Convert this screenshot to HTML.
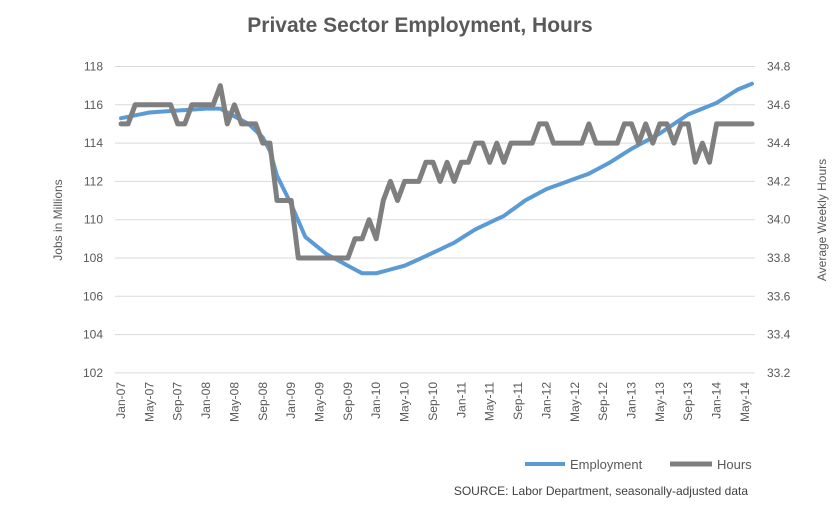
<!DOCTYPE html>
<html><head><meta charset="utf-8"><style>
body{margin:0;background:#fff;}
svg{display:block;font-family:"Liberation Sans",sans-serif;}
</style></head><body>
<svg id="s" width="840" height="512" xmlns="http://www.w3.org/2000/svg">
<text x="420" y="32" text-anchor="middle" font-size="21" font-weight="bold" fill="#595959">Private Sector Employment, Hours</text>
<g id="grid" stroke="#d9d9d9" stroke-width="1"></g>
<g id="lab" font-size="12" fill="#595959"></g>
<text transform="translate(62,220) rotate(-90)" text-anchor="middle" font-size="12" fill="#595959">Jobs in Millions</text>
<text transform="translate(826,220) rotate(-90)" text-anchor="middle" font-size="12" fill="#595959">Average Weekly Hours</text>
<path id="emp" fill="none" stroke="#5b9bd5" stroke-width="4" stroke-linejoin="round" stroke-linecap="round"/>
<path id="hrs" fill="none" stroke="#7f7f7f" stroke-width="5" stroke-linejoin="round" stroke-linecap="round"/>
<line x1="525" y1="464" x2="565" y2="464" stroke="#5b9bd5" stroke-width="4"/>
<text x="570" y="469" font-size="13" fill="#595959">Employment</text>
<line x1="670" y1="464" x2="712" y2="464" stroke="#7f7f7f" stroke-width="5"/>
<text x="717" y="469" font-size="13" fill="#595959">Hours</text>
<text x="748" y="495" text-anchor="end" font-size="12" fill="#404040">SOURCE: Labor Department, seasonally-adjusted data</text>
</svg>
<script>
var top0=66.5,step=38.3,x0=121,dx=7.09;
var g=document.getElementById('grid'),lab=document.getElementById('lab'),ns='http://www.w3.org/2000/svg';
function el(p,t,a,txt){var e=document.createElementNS(ns,t);for(var k in a)e.setAttribute(k,a[k]);if(txt)e.textContent=txt;p.appendChild(e);return e;}
for(var k=0;k<=8;k++){var y=top0+k*step;
 el(g,'line',{x1:115,x2:755,y1:y,y2:y});
 el(lab,'text',{x:103,y:y+4,'text-anchor':'end'},String(118-2*k));
 el(lab,'text',{x:767,y:y+4},(34.8-0.2*k).toFixed(1));}
var mons=['Jan','May','Sep'];
for(var i=0;i<=88;i+=4){var yr=7+Math.floor(i/12),m=mons[(i%12)/4];
 var x=x0+i*dx;
 el(lab,'text',{transform:'translate('+(x+4)+',382) rotate(-90)','text-anchor':'end'},m+'-'+(yr<10?'0':'')+yr);}
function yj(v){return top0+(118-v)*step/2;}
function yh(v){return top0+(34.8-v)*step*5;}
var ek=[[0,115.3],[4,115.6],[8,115.7],[12,115.8],[14,115.8],[16,115.4],[18,115.0],[20,114.3],[21,113.6],[22,112.3],[24,110.8],[26,109.1],[29,108.2],[32,107.6],[34,107.2],[36,107.2],[40,107.6],[43,108.1],[47,108.8],[50,109.5],[54,110.2],[57,111],[60,111.6],[63,112],[66,112.4],[69,113],[72,113.7],[76,114.5],[80,115.5],[84,116.1],[87,116.8],[89,117.1]];
var d='';for(var i=0;i<=89;i++){var v;for(var j=0;j<ek.length-1;j++){if(i>=ek[j][0]&&i<=ek[j+1][0]){var t=(i-ek[j][0])/(ek[j+1][0]-ek[j][0]);v=ek[j][1]+t*(ek[j+1][1]-ek[j][1]);break;}}
 d+=(i?'L':'M')+(x0+i*dx).toFixed(1)+' '+yj(v).toFixed(1);}
document.getElementById('emp').setAttribute('d',d);
var h=[34.5,34.5,34.6,34.6,34.6,34.6,34.6,34.6,34.5,34.5,34.6,34.6,34.6,34.6,34.7,34.5,34.6,34.5,34.5,34.5,34.4,34.4,34.1,34.1,34.1,33.8,33.8,33.8,33.8,33.8,33.8,33.8,33.8,33.9,33.9,34.0,33.9,34.1,34.2,34.1,34.2,34.2,34.2,34.3,34.3,34.2,34.3,34.2,34.3,34.3,34.4,34.4,34.3,34.4,34.3,34.4,34.4,34.4,34.4,34.5,34.5,34.4,34.4,34.4,34.4,34.4,34.5,34.4,34.4,34.4,34.4,34.5,34.5,34.4,34.5,34.4,34.5,34.5,34.4,34.5,34.5,34.3,34.4,34.3,34.5,34.5,34.5,34.5,34.5,34.5];
d='';for(var i=0;i<h.length;i++)d+=(i?'L':'M')+(x0+i*dx).toFixed(1)+' '+yh(h[i]).toFixed(1);
document.getElementById('hrs').setAttribute('d',d);
</script>
</body></html>
